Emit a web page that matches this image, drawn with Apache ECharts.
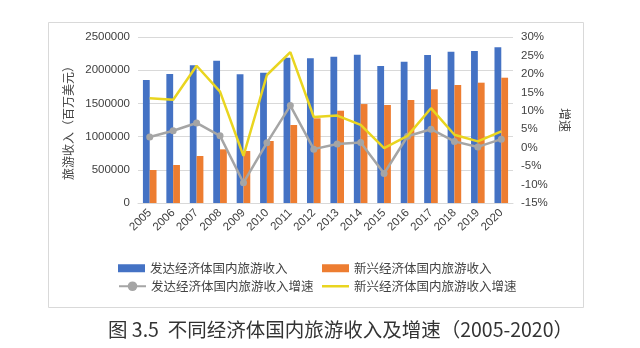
<!DOCTYPE html>
<html>
<head>
<meta charset="utf-8">
<script src="https://cdn.jsdelivr.net/npm/echarts@6/dist/echarts.min.js"></script>
<style>html,body{margin:0;padding:0;background:#fff}#c{width:640px;height:348px}</style>
</head>
<body>
<div id="c"></div>
<script>
var years = ['2005','2006','2007','2008','2009','2010','2011','2012','2013','2014','2015','2016','2017','2018','2019','2020'];
var developedIncome = [1852000,1943000,2074000,2143000,1938000,1963000,2188000,2179000,2203000,2234000,2063000,2128000,2229000,2279000,2289000,2345000];
var emergingIncome = [497000,572000,708000,808000,783000,934000,1175000,1275000,1390000,1490000,1476000,1551000,1712000,1777000,1812000,1887000];
var developedGrowth = [2.9,4.6,6.7,3.2,-9.5,1.3,11.4,-0.4,1.0,1.4,-7.0,3.1,5.0,1.7,0.2,2.3];
var emergingGrowth = [13.4,13.0,22.2,15.2,-2.2,19.7,25.9,8.3,8.7,6.2,-0.1,3.2,10.7,3.5,1.7,4.4];
var names = ['发达经济体国内旅游收入','新兴经济体国内旅游收入','发达经济体国内旅游收入增速','新兴经济体国内旅游收入增速'];
var leftAxisName = '旅游收入（百万美元）';
var rightAxisName = '增速';
var caption = '图 3.5  不同经济体国内旅游收入及增速（2005-2020）';

var cjk = '"Noto Sans CJK SC", sans-serif';
var num = '"Liberation Sans", Arial, sans-serif';
var chart = echarts.init(document.getElementById('c'), null, {renderer:'canvas'});
function lg(name, left, top, icon, h) {
  return {
    data: [{name: name, icon: icon}], left: left, top: top,
    itemWidth: 27, itemHeight: h, itemGap: 0,
    textStyle: {fontFamily: cjk, fontSize: 12.5, color: '#444'},
    padding: 0
  };
}
chart.setOption({
  animation: false,
  backgroundColor: '#fff',
  color: ['#4472C4','#ED7D31','#A5A5A5','#E9D520'],
  grid: {left: 138, right: 127, top: 37, bottom: 145, containLabel: false},
  legend: [
    lg(names[0], 118, 262, 'rect', 8),
    lg(names[1], 322, 262, 'rect', 8),
    lg(names[2], 118, 280, null, 12),
    lg(names[3], 322, 280, 'rect', 2.5)
  ],
  graphic: [
    {type:'rect', shape:{x:48.5, y:22.5, width:535, height:285}, style:{fill:'none', stroke:'#d9d9d9', lineWidth:1}, z:-1},
    {type:'text', left:108, top:320, style:{text: caption, font: '19.5px "Noto Sans CJK SC", serif', fill:'#333'}}
  ],
  xAxis: {
    type: 'category', data: years,
    axisLine: {lineStyle: {color: '#d9d9d9'}},
    axisTick: {show: false},
    axisLabel: {rotate: 45, color: '#404040', fontFamily: num, fontSize: 11.5, margin: 8, interval: 0}
  },
  yAxis: [
    {type: 'value', min: 0, max: 2500000, interval: 500000,
     name: leftAxisName, nameLocation: 'middle', nameGap: 45, nameRotate: 90,
     nameTextStyle: {fontFamily: cjk, fontSize: 12, color: '#444'},
     axisLine: {show: false}, axisTick: {show: false},
     axisLabel: {formatter: function (v) { return String(v); }, color: '#404040', fontFamily: num, fontSize: 11.5, margin: 8},
     splitLine: {lineStyle: {color: '#d9d9d9'}}},
    {type: 'value', min: -15, max: 30, interval: 5, position: 'right',
     name: rightAxisName, nameLocation: 'middle', nameGap: 38, nameRotate: -90,
     nameTextStyle: {fontFamily: cjk, fontSize: 12, color: '#444'},
     axisLine: {show: false}, axisTick: {show: false},
     axisLabel: {formatter: '{value}%', color: '#404040', fontFamily: num, fontSize: 11.5, margin: 8},
     splitLine: {show: false}}
  ],
  series: [
    {name: names[0], type: 'bar', data: developedIncome, barWidth: 6.8, barGap: '0%', itemStyle: {color: '#4472C4'}},
    {name: names[1], type: 'bar', data: emergingIncome, barWidth: 6.8, barGap: '0%', itemStyle: {color: '#ED7D31'}},
    {name: names[2], type: 'line', yAxisIndex: 1, data: developedGrowth, symbol: 'circle', symbolSize: 7,
     lineStyle: {width: 2.5, color: '#A5A5A5'}, itemStyle: {color: '#A5A5A5'}, z: 5},
    {name: names[3], type: 'line', yAxisIndex: 1, data: emergingGrowth, symbol: 'none', showSymbol: false,
     lineStyle: {width: 2.5, color: '#E9D520'}, itemStyle: {color: '#E9D520'}, z: 6}
  ]
});
</script>
</body>
</html>
